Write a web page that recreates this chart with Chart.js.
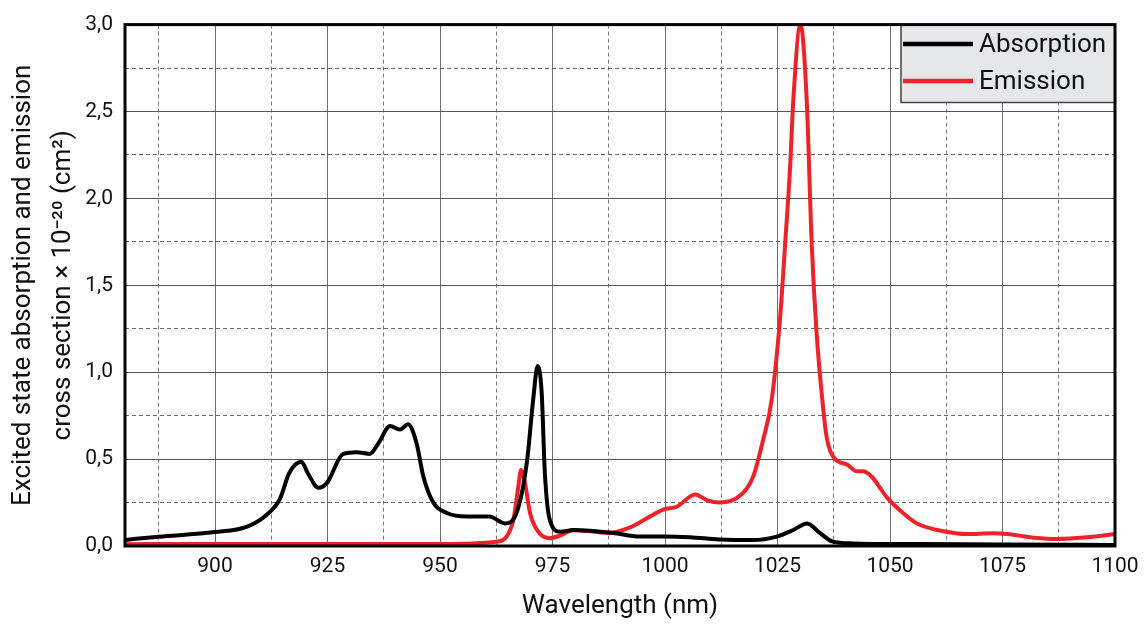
<!DOCTYPE html>
<html>
<head>
<meta charset="utf-8">
<script src="https://cdn.jsdelivr.net/npm/chart.js@4.4.1/dist/chart.umd.min.js"></script>
<style>
  html, body { margin: 0; padding: 0; background: #ffffff; }
  #wrap { width: 1147px; height: 626px; position: relative; }
</style>
</head>
<body>
<div id="wrap"><canvas id="c" width="1147" height="626"></canvas></div>
<script>
// ---- data ----
const absWavelength = [880, 887.5, 900, 907, 911.5, 914.4, 916.5, 919.2, 920.6, 923, 924.8, 928.5, 931.5, 934.4, 936.3, 938.9, 941.1, 942.9, 944.8, 946.3, 948.5, 951.5, 956, 961, 964.4, 967, 969.3, 970.7, 971.7, 972.6, 973.3, 974.4, 976.7, 979.6, 983.3, 988.5, 994.4, 999.6, 1005.6, 1012, 1019.6, 1024.8, 1028.5, 1031.6, 1034.4, 1037.3, 1041.8, 1056.7, 1075, 1100];
const absValues = [0.035, 0.053, 0.08, 0.11, 0.18, 0.27, 0.42, 0.485, 0.42, 0.335, 0.36, 0.53, 0.54, 0.53, 0.59, 0.69, 0.67, 0.70, 0.59, 0.40, 0.25, 0.19, 0.17, 0.17, 0.13, 0.19, 0.48, 0.84, 1.035, 0.88, 0.42, 0.15, 0.082, 0.092, 0.088, 0.075, 0.054, 0.054, 0.05, 0.038, 0.034, 0.054, 0.092, 0.13, 0.075, 0.025, 0.015, 0.011, 0.008, 0.006];

const emiWavelength = [880, 900, 925, 950, 962.6, 964.8, 966.3, 967.4, 968, 968.9, 970, 972.2, 974.4, 976.7, 979.6, 983.3, 987.5, 992.5, 996, 999.6, 1002.6, 1006.7, 1009.3, 1012.2, 1016.7, 1019.6, 1021.8, 1023.7, 1025.6, 1026.7, 1027.8, 1028.5, 1030.1, 1031.5, 1032.6, 1033.7, 1035.2, 1035.9, 1037.8, 1040.4, 1042.6, 1044, 1045.9, 1049.3, 1052.9, 1056, 1062.6, 1067, 1072.9, 1076, 1082, 1087, 1093.7, 1100];
const emiValues = [0.01, 0.012, 0.012, 0.012, 0.025, 0.054, 0.15, 0.34, 0.437, 0.36, 0.19, 0.07, 0.045, 0.06, 0.09, 0.085, 0.075, 0.11, 0.16, 0.21, 0.226, 0.297, 0.264, 0.25, 0.29, 0.40, 0.61, 0.84, 1.32, 1.74, 2.18, 2.56, 3.0, 2.56, 1.74, 1.22, 0.78, 0.63, 0.50, 0.47, 0.43, 0.43, 0.40, 0.28, 0.19, 0.13, 0.082, 0.069, 0.073, 0.069, 0.048, 0.04, 0.05, 0.069];

const seriesNames = ["Absorption", "Emission"];
const xTickLabels = [900, 925, 950, 975, 1000, 1025, 1050, 1075, 1100];
const yTickLabels = ["0,0", "0,5", "1,0", "1,5", "2,0", "2,5", "3,0"];
const xTitle = "Wavelength (nm)";
const yTitle = ["Excited state absorption and emission", "cross section \u00d7 10\u207B\u00B2\u2070 (cm\u00B2)"];

const FONT = "Roboto, 'DejaVu Sans', sans-serif";

const toPoints = (xs, ys) => xs.map((x, i) => ({ x: x, y: ys[i] }));

const isMajorX = v => Math.abs(v % 25) < 1e-6 && v >= 900;
const isMajorY = v => Math.abs((v * 2) - Math.round(v * 2)) < 1e-6;

const framePlugin = {
  id: 'frame',
  afterDatasetsDraw(chart) {
    const { ctx, chartArea: a } = chart;
    ctx.save();
    // legend box
    const lx = 901, ly = a.top, lw = a.right - 901, lh = 78;
    ctx.fillStyle = '#e6e7e8';
    ctx.fillRect(lx, ly, lw, lh);
    ctx.strokeStyle = '#444';
    ctx.lineWidth = 1.5;
    ctx.beginPath();
    ctx.moveTo(lx, ly);
    ctx.lineTo(lx, ly + lh);
    ctx.lineTo(a.right, ly + lh);
    ctx.stroke();
    const rows = [44, 81];
    chart.data.datasets.forEach((ds, i) => {
      ctx.strokeStyle = ds.borderColor;
      ctx.lineWidth = 4.5;
      ctx.beginPath();
      ctx.moveTo(903, rows[i]);
      ctx.lineTo(973, rows[i]);
      ctx.stroke();
      ctx.fillStyle = '#111';
      ctx.font = "26px " + FONT;
      ctx.textBaseline = 'middle';
      ctx.textAlign = 'left';
      ctx.fillText(ds.label, 979, rows[i] + 1);
    });
    // frame
    ctx.strokeStyle = '#000';
    ctx.lineWidth = 3;
    ctx.strokeRect(a.left, a.top, a.right - a.left, a.bottom - a.top);
    ctx.restore();
  }
};

new Chart(document.getElementById('c'), {
  type: 'line',
  data: {
    datasets: [
      {
        label: seriesNames[0],
        data: toPoints(absWavelength, absValues),
        borderColor: '#000000',
        borderWidth: 4,
        pointRadius: 0,
        cubicInterpolationMode: 'monotone',
        fill: false
      },
      {
        label: seriesNames[1],
        data: toPoints(emiWavelength, emiValues),
        borderColor: '#ee2229',
        borderWidth: 4,
        pointRadius: 0,
        cubicInterpolationMode: 'monotone',
        fill: false
      }
    ]
  },
  options: {
    responsive: false,
    animation: false,
    devicePixelRatio: 1,
    layout: { padding: { top: 24, right: 32, left: 0, bottom: 0 } },
    plugins: {
      legend: { display: false },
      tooltip: { enabled: false }
    },
    scales: {
      x: {
        type: 'linear',
        min: 880,
        max: 1100,
        afterFit: s => { s.height = 80; },
        afterBuildTicks: s => {
          const t = [];
          for (let v = 887.5; v <= 1100 + 1e-6; v += 12.5) t.push({ value: v });
          s.ticks = t;
        },
        ticks: {
          autoSkip: false,
          maxRotation: 0,
          padding: 8,
          color: '#111',
          font: { family: FONT, size: 21 },
          callback: v => (xTickLabels.includes(v) ? String(v) : '')
        },
        grid: {
          drawTicks: false,
          color: ctx => (ctx.tick && isMajorX(ctx.tick.value) ? '#6e6e6e' : '#7a7a7a'),
          lineWidth: 1
        },
        border: {
          display: false,
          dash: ctx => (ctx.tick && !isMajorX(ctx.tick.value) ? [4, 3] : [])
        },
        title: {
          display: true,
          text: xTitle,
          color: '#111',
          font: { family: FONT, size: 26 },
          padding: { top: 0, bottom: 4 }
        }
      },
      y: {
        min: 0,
        max: 3,
        afterFit: s => { s.width = 125; },
        afterBuildTicks: s => {
          const t = [];
          for (let i = 0; i <= 12; i++) t.push({ value: i * 0.25 });
          s.ticks = t;
        },
        ticks: {
          autoSkip: false,
          padding: 12,
          color: '#111',
          font: { family: FONT, size: 21 },
          callback: v => (isMajorY(v) ? yTickLabels[Math.round(v * 2)] : '')
        },
        grid: {
          drawTicks: false,
          color: ctx => (ctx.tick && isMajorY(ctx.tick.value) ? '#555' : '#6a6a6a'),
          lineWidth: 1
        },
        border: {
          display: false,
          dash: ctx => (ctx.tick && !isMajorY(ctx.tick.value) ? [4, 3] : [])
        },
        title: {
          display: true,
          text: yTitle,
          color: '#111',
          font: { family: FONT, size: 26, lineHeight: 1.55 },
          padding: { top: 3, bottom: 0 }
        }
      }
    }
  },
  plugins: [framePlugin]
});
</script>
</body>
</html>
